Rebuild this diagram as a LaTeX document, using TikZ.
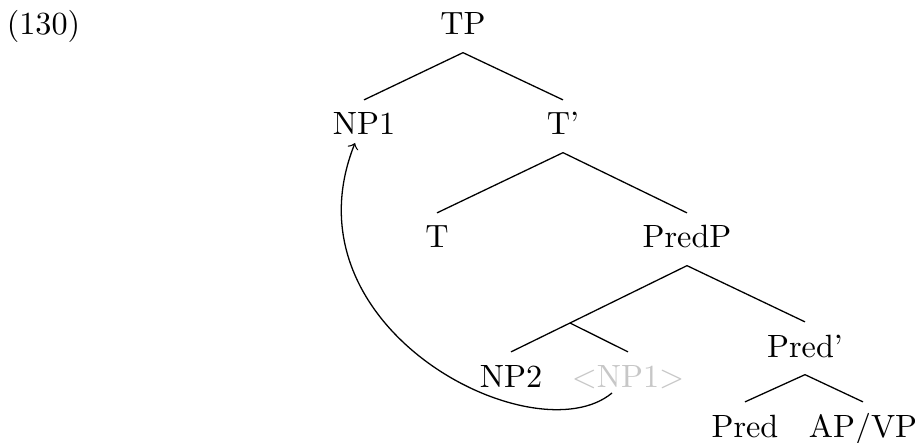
\documentclass[tikz,border=0pt]{standalone}
\begin{document}
\begin{tikzpicture}[x=0.3104pt,y=-0.3104pt,
  tn/.style={anchor=base,inner sep=0pt,text height=10.7pt,text depth=5.28pt},
  edge/.style={draw,line width=0.4pt},
  mv/.style={->,line width=0.4pt}]
\useasboundingbox (0,0) rectangle (915,443);
\node[anchor=base,inner sep=0pt] (ex) at (43.5,35) {(130)};
\node[tn] (TP) at (463,35) {TP};
\node[tn] (NPa) at (364,135) {NP1};
\node[tn] (Tb) at (563,135) {T'};
\node[tn] (T) at (437,248) {T};
\node[tn] (PredP) at (687,248) {PredP};
\coordinate (u) at (570,323);
\node[tn] (Predb) at (805,357) {Pred'};
\node[tn] (NPb) at (511,387) {NP2};
\node[tn,text=black!22] (NPt) at (628,387) {$<$NP1$>$};
\node[tn] (Pred) at (745,437) {Pred};
\node[tn] (APVP) at (863,437) {AP/VP};
\path[edge] (TP.south) -- (NPa.north);
\path[edge] (TP.south) -- (Tb.north);
\path[edge] (Tb.south) -- (T.north);
\path[edge] (Tb.south) -- (PredP.north);
\path[edge] (PredP.south) -- (u);
\path[edge] (u) -- (NPb.north);
\path[edge] (u) -- (NPt.north);
\path[edge] (PredP.south) -- (Predb.north);
\path[edge] (Predb.south) -- (Pred.north);
\path[edge] (Predb.south) -- (APVP.north);
\draw[mv] ([shift={(-16,6)}]NPt.base) .. controls +(-77,64) and +(-74,186) .. ([shift={(-9,8)}]NPa.base);
\end{tikzpicture}
\end{document}
